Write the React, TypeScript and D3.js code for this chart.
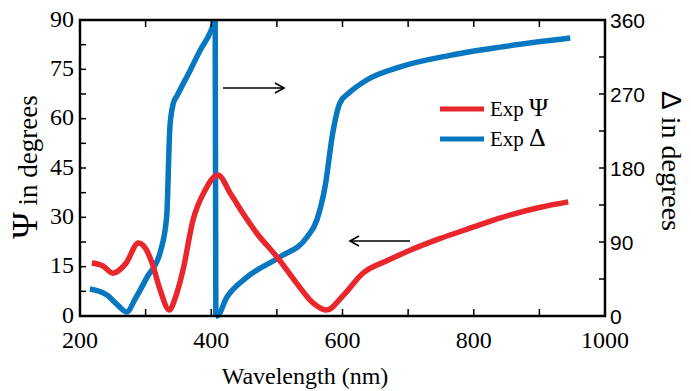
import React from "react";
import * as d3 from "d3";

const psiWl = [218, 235, 250, 270, 289, 300, 310, 322, 336, 346, 357, 372, 390, 410, 430, 448, 470, 500, 530, 555, 576, 600, 631, 670, 703, 745, 784, 820, 855, 900, 944];
const psiVal = [16.1, 15.2, 13, 16, 22.2, 20.5, 16, 8, 1.8, 6, 14, 29, 38, 42.9, 37, 31.3, 25, 18, 10, 4, 1.8, 6, 13, 17, 20, 23.3, 26, 28.5, 30.7, 33, 34.7];

// Delta before the 360 -> 0 wrap
const delWlA = [215, 241, 258, 271, 285, 302, 322, 332, 337, 342, 348, 368, 383, 398, 406];
const delValA = [32.8, 25.5, 13, 5, 22, 47, 77, 120, 230, 258, 268, 299, 323, 344, 360];
// Delta after the wrap
const delWlB = [407, 408.5, 424, 454, 505, 546, 561, 574, 585, 596, 611, 637, 688, 764, 840, 947];
const delValB = [0, 0, 23, 47, 72, 96, 117, 160, 222, 259, 272, 287, 303, 317, 327, 338];

const xTicks = [200, 400, 600, 800, 1000];
const psiTicks = [0, 15, 30, 45, 60, 75, 90];
const delTicks = [0, 90, 180, 270, 360];

const RED = "#e8262b";
const BLUE = "#0877c1";

export default function App() {
  const L = 80, R = 605, T = 20, B = 316;
  const x = d3.scaleLinear().domain([200, 1000]).range([L, R]);
  const yL = d3.scaleLinear().domain([0, 90]).range([B, T]);
  const yR = d3.scaleLinear().domain([0, 360]).range([B, T]);
  const psiLine = d3.line<number>().x((_, i) => x(psiWl[i])).y((d) => yL(d)).curve(d3.curveMonotoneX);
  const delLineA = d3.line<number>().x((_, i) => x(delWlA[i])).y((d) => yR(d)).curve(d3.curveMonotoneX);
  const delLineB = d3.line<number>().x((_, i) => x(delWlB[i])).y((d) => yR(d)).curve(d3.curveMonotoneX);
  const serif: React.CSSProperties = { fontFamily: "'Liberation Serif', 'DejaVu Serif', serif" };
  const sans: React.CSSProperties = { fontFamily: "'Liberation Sans', Arial, sans-serif" };
  const minorX = d3.range(200, 1001, 100);
  const minorL = d3.range(0, 90.1, 7.5);
  const minorR = d3.range(0, 360.1, 45);
  const lastA = delWlA.length - 1;
  return (
    <svg width={691} height={391} style={{ position: "absolute", left: 0, top: 0 }}>
      <rect width={691} height={391} fill="#fff" />
      <path d={delLineA(delValA) || ""} fill="none" stroke={BLUE} strokeWidth={5.5} strokeLinejoin="round" />
      <line x1={x(delWlA[lastA])} x2={x(delWlB[0])} y1={yR(delValA[lastA])} y2={yR(delValB[0])} stroke={BLUE} strokeWidth={5.5} />
      <path d={delLineB(delValB) || ""} fill="none" stroke={BLUE} strokeWidth={5.5} strokeLinejoin="round" />
      <path d={psiLine(psiVal) || ""} fill="none" stroke={RED} strokeWidth={5.5} strokeLinejoin="round" />
      <rect x={L} y={T} width={R - L} height={B - T} fill="none" stroke="#000" strokeWidth={2.5} />
      {minorX.map((v) => (
        <g key={"mx" + v}>
          <line x1={x(v)} x2={x(v)} y1={B} y2={B - 7} stroke="#000" strokeWidth={1.5} />
          <line x1={x(v)} x2={x(v)} y1={T} y2={T + 7} stroke="#000" strokeWidth={1.5} />
        </g>
      ))}
      {minorL.map((v) => (
        <line key={"ml" + v} x1={L} x2={L + 6} y1={yL(v)} y2={yL(v)} stroke="#000" strokeWidth={1.5} />
      ))}
      {minorR.map((v) => (
        <line key={"mr" + v} x1={R} x2={R - 6} y1={yR(v)} y2={yR(v)} stroke="#000" strokeWidth={1.5} />
      ))}
      {xTicks.map((v) => (
        <text key={"xt" + v} x={x(v)} y={348} textAnchor="middle" style={serif} fontSize={24}>{v}</text>
      ))}
      {psiTicks.map((v) => (
        <text key={"lt" + v} x={74} y={yL(v) + 6.5} textAnchor="end" style={serif} fontSize={24}>{v}</text>
      ))}
      {delTicks.map((v) => (
        <text key={"rt" + v} x={610} y={yR(v) + 7.5} textAnchor="start" style={sans} fontSize={21}>{v}</text>
      ))}
      <text x={305} y={384} textAnchor="middle" style={serif} fontSize={24}>Wavelength (nm)</text>
      <text transform="translate(37,167) rotate(-90)" textAnchor="middle" style={serif} fontSize={27}>
        <tspan fontSize={36}>Ψ</tspan> in degrees
      </text>
      <text transform="translate(662,161) rotate(90)" textAnchor="middle" style={serif} fontSize={28}>
        <tspan style={sans} fontSize={28}>Δ</tspan> in degrees
      </text>
      <g stroke="#000" strokeWidth={1.6} fill="none">
        <line x1={223} x2={284} y1={88} y2={88} />
        <polyline points="275,83 284,88 275,93" />
        <line x1={350} x2={410} y1={241} y2={241} />
        <polyline points="359,236 350,241 359,246" />
      </g>
      <line x1={440} x2={484} y1={109} y2={109} stroke={RED} strokeWidth={5} />
      <line x1={440} x2={484} y1={139} y2={139} stroke={BLUE} strokeWidth={5} />
      <text x={490} y={116} style={serif} fontSize={21}>Exp <tspan fontSize={26}>Ψ</tspan></text>
      <text x={490} y={146} style={serif} fontSize={21}>Exp <tspan fontSize={26}>Δ</tspan></text>
    </svg>
  );
}
